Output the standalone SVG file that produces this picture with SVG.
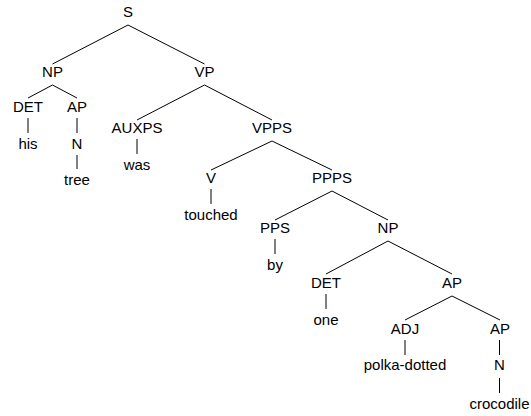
<svg xmlns="http://www.w3.org/2000/svg" width="531" height="416" viewBox="0 0 531 416">
<style>
text{font-family:"Liberation Sans",Arial,sans-serif;font-size:15px;fill:#000;text-anchor:middle}
#edges line{stroke:#000;stroke-width:1}
</style>
<rect width="531" height="416" fill="#fff"/>
<g id="edges">
<line x1="128" y1="25" x2="52.5" y2="64"/>
<line x1="128" y1="25" x2="204.5" y2="64"/>
<line x1="52.5" y1="85" x2="28" y2="98"/>
<line x1="52.5" y1="85" x2="77" y2="98"/>
<line x1="28" y1="118" x2="28" y2="133"/>
<line x1="77" y1="118" x2="77" y2="133"/>
<line x1="77" y1="155" x2="77" y2="169"/>
<line x1="204.5" y1="85" x2="137" y2="120"/>
<line x1="204.5" y1="85" x2="272" y2="120"/>
<line x1="137" y1="139" x2="137" y2="154"/>
<line x1="272" y1="141" x2="211" y2="170"/>
<line x1="272" y1="141" x2="332" y2="170"/>
<line x1="211" y1="189" x2="211" y2="204"/>
<line x1="332" y1="191" x2="275" y2="220"/>
<line x1="332" y1="191" x2="388" y2="220"/>
<line x1="275" y1="239" x2="275" y2="254"/>
<line x1="388" y1="241" x2="326" y2="274"/>
<line x1="388" y1="241" x2="452" y2="274"/>
<line x1="326" y1="294" x2="326" y2="309"/>
<line x1="452" y1="296" x2="405" y2="320"/>
<line x1="452" y1="296" x2="500" y2="320"/>
<line x1="405" y1="340" x2="405" y2="355"/>
<line x1="499.5" y1="340" x2="499.5" y2="355"/>
<line x1="499.5" y1="378" x2="499.5" y2="393"/>
</g>
<g id="n-S"><text x="128" y="17">S</text></g>
<g id="n-NP1"><text x="52.5" y="77">NP</text></g>
<g id="n-VP"><text x="204.5" y="77">VP</text></g>
<g id="n-DET1"><text x="28" y="112">DET</text></g>
<g id="n-AP1"><text x="77" y="112">AP</text></g>
<g id="n-his"><text x="28" y="149">his</text></g>
<g id="n-N1"><text x="77" y="149">N</text></g>
<g id="n-tree"><text x="77" y="185">tree</text></g>
<g id="n-AUXPS"><text x="137" y="133">AUXPS</text></g>
<g id="n-was"><text x="137" y="170">was</text></g>
<g id="n-VPPS"><text x="272" y="133">VPPS</text></g>
<g id="n-V"><text x="211" y="183">V</text></g>
<g id="n-touched"><text x="211" y="220">touched</text></g>
<g id="n-PPPS"><text x="332" y="183">PPPS</text></g>
<g id="n-PPS"><text x="275" y="233">PPS</text></g>
<g id="n-by"><text x="275" y="270">by</text></g>
<g id="n-NP2"><text x="388" y="233">NP</text></g>
<g id="n-DET2"><text x="326" y="288">DET</text></g>
<g id="n-one"><text x="326" y="325">one</text></g>
<g id="n-AP2"><text x="452" y="288">AP</text></g>
<g id="n-ADJ"><text x="405" y="334">ADJ</text></g>
<g id="n-polka"><text x="405" y="370">polka-dotted</text></g>
<g id="n-AP3"><text x="500" y="334">AP</text></g>
<g id="n-N2"><text x="499.5" y="370">N</text></g>
<g id="n-croc"><text x="499.5" y="409">crocodile</text></g>
</svg>
